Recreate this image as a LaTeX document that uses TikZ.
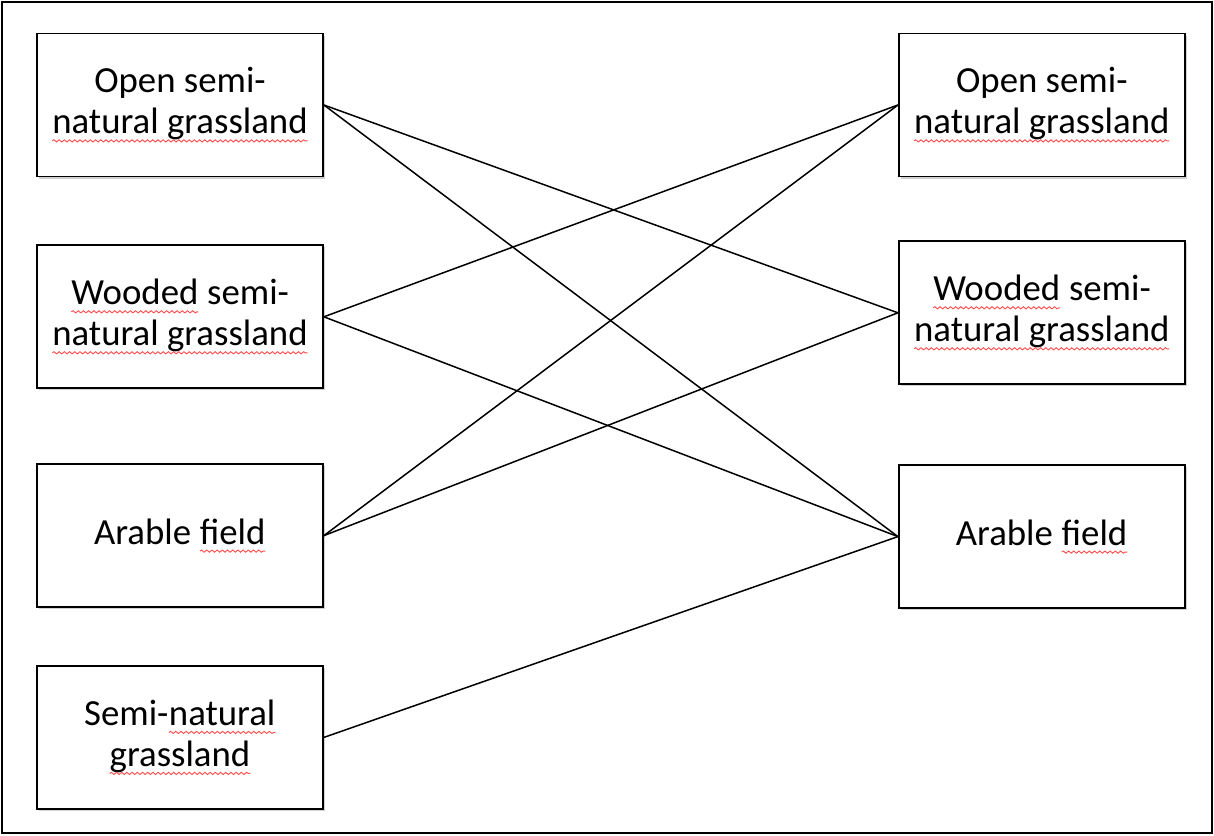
\documentclass[tikz,border=0pt]{standalone}
\usepackage{fontspec}
\setmainfont{Carlito}
\usepackage{xcolor}
\usetikzlibrary{positioning, decorations.pathmorphing, shadows}

% spell-check underline
\newcommand{\typo}[1]{\tikz[baseline=(w.base)]{\node[inner sep=0pt, outer sep=0pt, minimum width=0pt, minimum height=0pt, align=left] (w) {#1};
  \draw[red!70, line width=0.45pt, decorate, decoration={snake, amplitude=0.55pt, segment length=2.6pt}]
    ([yshift=-3.5pt]w.base west) -- ([yshift=-3.5pt]w.base east);}}

\begin{document}
\begin{tikzpicture}[
  box/.style={draw, line width=0.9pt, fill=white, minimum width=143pt, minimum height=71.5pt, align=center,
    font=\fontsize{18.4pt}{20.5pt}\selectfont,
    drop shadow={shadow xshift=1pt, shadow yshift=-1pt, opacity=0.3, fill=black!60}},
  link/.style={line width=0.75pt}
]
\useasboundingbox (0,0) rectangle (607pt,-417.5pt);
\draw[line width=1pt] (1pt,-1pt) rectangle (606pt,-416.5pt);

\node[box] (lopen) at (90pt,-52.5pt) {Open semi-\\\typo{natural grassland}};
\node[box, below=33.5pt of lopen] (lwood) {\typo{Wooded} semi-\\\typo{natural grassland}};
\node[box, below=37pt of lwood] (larable) {Arable \typo{field}};
\node[box, below=28.5pt of larable] (lsemi) {Semi-\typo{natural}\\\typo{grassland}};

\node[box, right=287pt of lopen] (ropen) {Open semi-\\\typo{natural grassland}};
\node[box, below=31.5pt of ropen] (rwood) {\typo{Wooded} semi-\\\typo{natural grassland}};
\node[box, below=39.5pt of rwood] (rarable) {Arable \typo{field}};

\draw[link] (lopen.east) -- (rwood.west);
\draw[link] (lopen.east) -- (rarable.west);
\draw[link] (lwood.east) -- (ropen.west);
\draw[link] (lwood.east) -- (rarable.west);
\draw[link] (larable.east) -- (ropen.west);
\draw[link] (larable.east) -- (rwood.west);
\draw[link] (lsemi.east) -- (rarable.west);
\end{tikzpicture}
\end{document}
